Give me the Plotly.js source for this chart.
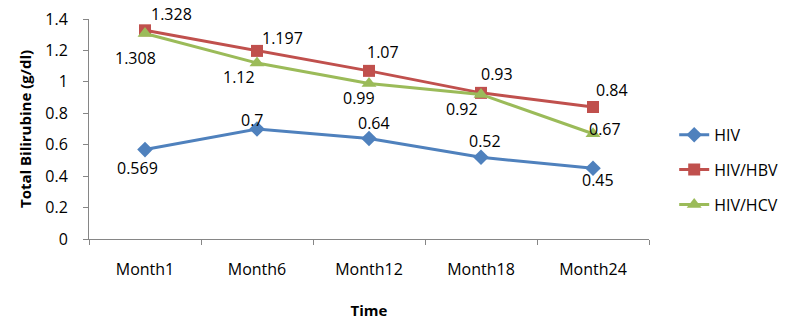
<!DOCTYPE html>
<html><head><meta charset="utf-8">
<script src="https://cdn.plot.ly/plotly-3.0.1.min.js"></script>
<style>html,body{margin:0;padding:0;background:#fff;}#chart{width:800px;height:330px;}</style>
</head><body><div id="chart"></div>
<script>
const categories = ["Month1","Month6","Month12","Month18","Month24"];
const hiv    = [0.569, 0.7, 0.64, 0.52, 0.45];
const hivHbv = [1.328, 1.197, 1.07, 0.93, 0.84];
const hivHcv = [1.308, 1.12, 0.99, 0.92, 0.67];
const seriesNames = ["HIV","HIV/HBV","HIV/HCV"];
const yTicks = [0,0.2,0.4,0.6,0.8,1,1.2,1.4];

// label offsets (screen px: dx right, dy down)
const offHiv = [[-8,18],[-5,-9],[5,-15],[4,-16],[5,12]];
const offHbv = [[26,-16],[25,-13],[14,-19],[16,-19],[19,-17]];
const offHcv = [[-10,25],[-18,14],[-10,15],[-19,15],[12,-5]];

const FONT = "'Open Sans', 'DejaVu Sans', sans-serif";
const colors = ["#4F81BD","#C0504D","#9BBB59"];
const symbols = ["diamond","square","triangle-up"];
const sizes = [12,12,13];
const series = [hiv, hivHbv, hivHcv];
const offs = [offHiv, offHbv, offHcv];

const traces = series.map((vals,i)=>({
  x: categories, y: vals, type:'scatter', mode:'lines+markers', name: seriesNames[i],
  legendgroup: 'g'+i,
  line:{color:colors[i], width:3},
  marker:{symbol:symbols[i], size:sizes[i], color:colors[i]},
  cliponaxis:false
}));

const annotations = [];
series.forEach((vals,i)=>{
  vals.forEach((v,j)=>{
    annotations.push({x:categories[j], y:v, xref:'x', yref:'y', text:String(v), showarrow:false,
      xshift:offs[i][j][0], yshift:-offs[i][j][1], font:{family:FONT, size:16, color:'#000'}});
  });
});

const layout = {
  width:800, height:330, margin:{l:89, r:151, t:19, b:91},
  paper_bgcolor:'#fff', plot_bgcolor:'#fff',
  font:{family:FONT, size:16, color:'#000'},
  showlegend:true,
  legend:{x:1.045, xanchor:'left', y:0.314, yanchor:'middle', tracegroupgap:11,
    font:{family:FONT, size:16, color:'#000'}, bgcolor:'rgba(0,0,0,0)'},
  xaxis:{type:'category', range:[-0.5,4.5], showgrid:false, showline:true, linecolor:'#868686', linewidth:1,
    ticks:'outside', tickson:'boundaries', ticklen:5, tickcolor:'#868686', ticklabelstandoff:16,
    title:{text:'<b>Time</b>', font:{family:FONT, size:15}, standoff:26}, zeroline:false, fixedrange:true},
  yaxis:{range:[0,1.4], tickvals:yTicks, ticktext:yTicks.map(String), showgrid:false, showline:true,
    linecolor:'#868686', linewidth:1, ticks:'outside', ticklen:5, tickcolor:'#868686', ticklabelstandoff:12,
    title:{text:'<b>Total Bilirubine (g/dl)</b>', font:{family:FONT, size:15}, standoff:10}, zeroline:false, fixedrange:true},
  annotations: annotations
};
Plotly.newPlot('chart', traces, layout, {displayModeBar:false, staticPlot:true});
</script></body></html>
